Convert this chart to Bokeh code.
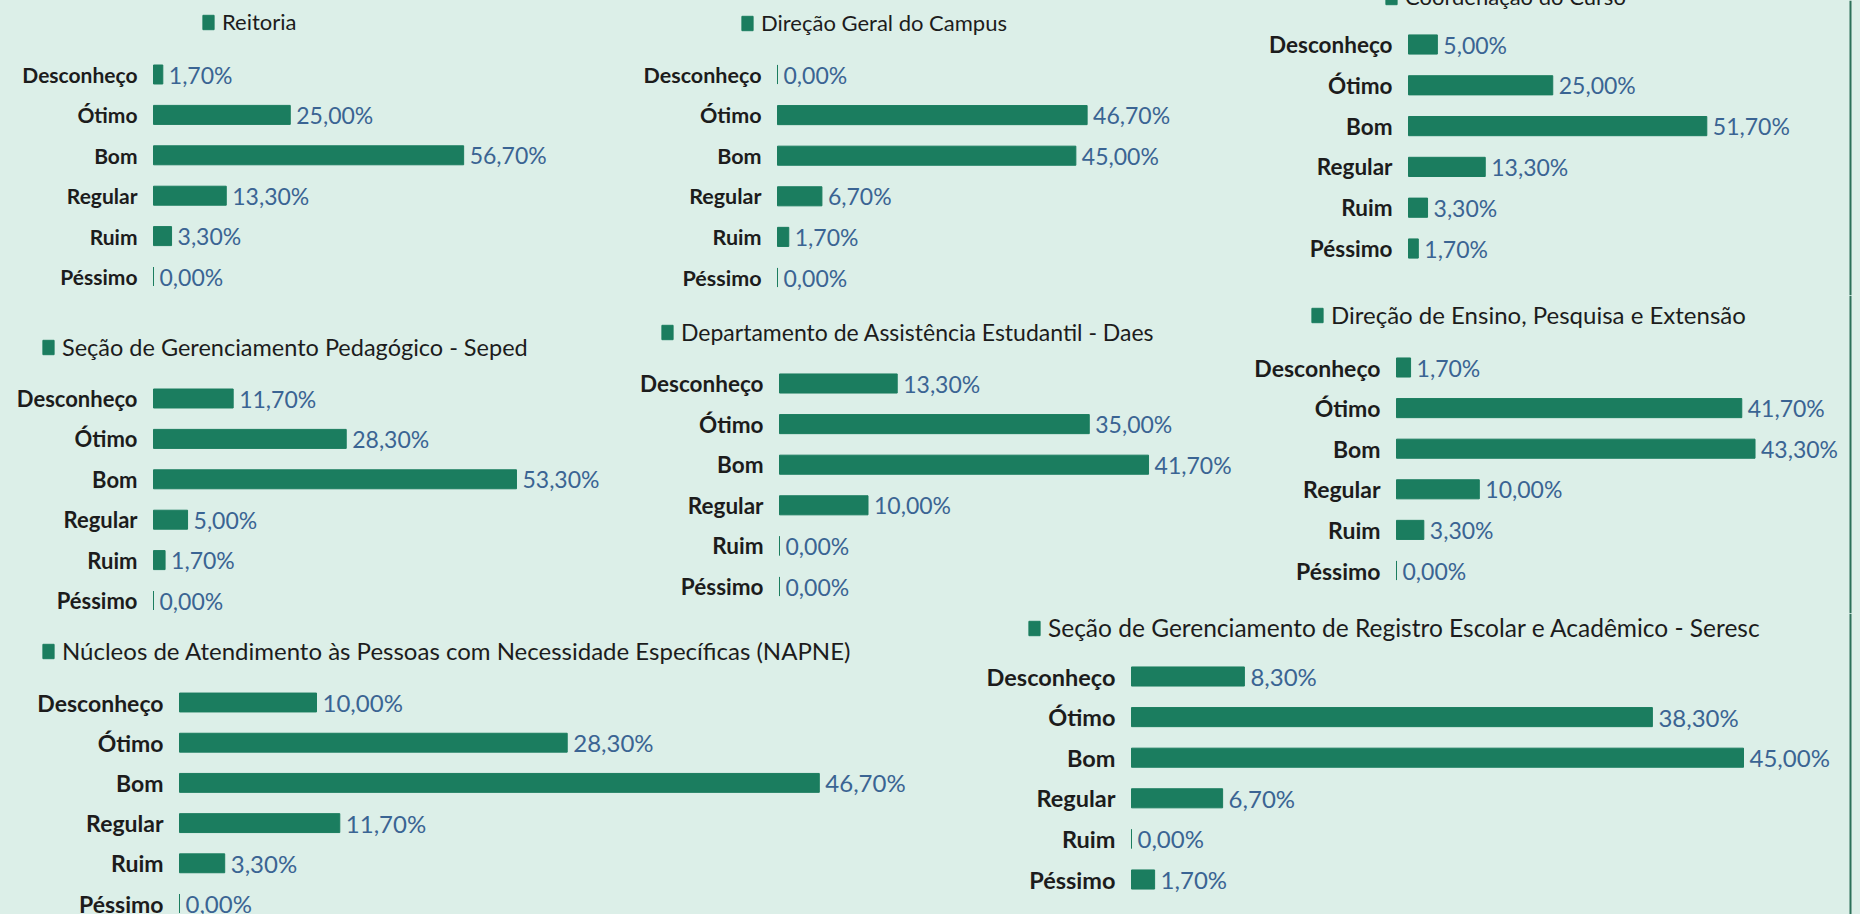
from bokeh.plotting import figure
from bokeh.models import Range1d, ColumnDataSource, Legend, LegendItem, Span
from bokeh.layouts import column, row
from bokeh.core.properties import value
from bokeh.embed import file_html
from bokeh.resources import INLINE

# ---------------- data ----------------
categorias = ["Desconheço", "Ótimo", "Bom", "Regular", "Ruim", "Péssimo"]

titulos = [
    "Reitoria",
    "Direção Geral do Campus",
    "Coordenação do Curso",
    "Seção de Gerenciamento Pedagógico - Seped",
    "Departamento de Assistência Estudantil - Daes",
    "Direção de Ensino, Pesquisa e Extensão",
    "Núcleos de Atendimento às Pessoas com Necessidade Específicas (NAPNE)",
    "Seção de Gerenciamento de Registro Escolar e Acadêmico - Seresc",
]

reitoria = [1.7, 25.0, 56.7, 13.3, 3.3, 0.0]
direcao_geral = [0.0, 46.7, 45.0, 6.7, 1.7, 0.0]
coordenacao = [5.0, 25.0, 51.7, 13.3, 3.3, 1.7]
seped = [11.7, 28.3, 53.3, 5.0, 1.7, 0.0]
daes = [13.3, 35.0, 41.7, 10.0, 0.0, 0.0]
depe = [1.7, 41.7, 43.3, 10.0, 3.3, 0.0]
napne = [10.0, 28.3, 46.7, 11.7, 3.3, 0.0]
seresc = [8.3, 38.3, 45.0, 6.7, 0.0, 1.7]

series = [reitoria, direcao_geral, coordenacao, seped, daes, depe, napne, seresc]

# ---------------- layout / style (page pixels) ----------------
# box = (left, right, top, bottom) of each panel; bar_start = x of value 0;
# scale = pixels per percent; row0 = y of first category; spacing = row pitch
# fc/fv/ft = font sizes of categories / values / title
layout_cfg = [
    dict(box=(0, 620, 0, 295), bar_start=153, scale=5.47, row0=74, spacing=40.4,
         title_y=22, square=201, fc=21, fv=23, ft=22),
    dict(box=(620, 1250, 0, 295), bar_start=777, scale=6.63, row0=74, spacing=40.6,
         title_y=23, square=740, fc=21.5, fv=23, ft=22),
    dict(box=(1250, 1860, 0, 295), bar_start=1408, scale=5.77, row0=44, spacing=40.8,
         title_y=-3, square=1384, fc=22.5, fv=23, ft=22, edge=1850),
    dict(box=(0, 625, 295, 613), bar_start=153, scale=6.81, row0=398, spacing=40.4,
         title_y=347, square=41, fc=22, fv=23, ft=23.5),
    dict(box=(625, 1240, 295, 613), bar_start=779, scale=8.85, row0=383, spacing=40.6,
         title_y=332, square=660, fc=22.5, fv=23, ft=23),
    dict(box=(1240, 1860, 295, 613), bar_start=1396, scale=8.28, row0=367, spacing=40.6,
         title_y=315, square=1310, fc=23, fv=23, ft=24, edge=1850),
    dict(box=(0, 950, 613, 914), bar_start=179, scale=13.7, row0=702, spacing=40.2,
         title_y=651, square=41, fc=23, fv=24, ft=24),
    dict(box=(950, 1860, 613, 914), bar_start=1131, scale=13.6, row0=676, spacing=40.6,
         title_y=627, square=1027, fc=23.5, fv=24, ft=24.5, edge=1850),
]

BG = "#dcefe8"
GREEN = "#1b7d5f"
EDGE = "#2d7059"
DARK = "#1c1c1c"
BLUE = "#3a6493"
FONT = "Lato"


def fmt(v):
    return f"{v:.2f}".replace(".", ",") + "%"


def make_chart(title, vals, cfg):
    fl, fr, ft, fb = cfg["box"]
    W, H = fr - fl, fb - ft
    bs, sc = cfg["bar_start"], cfg["scale"]
    r0, sp = cfg["row0"], cfg["spacing"]
    p = figure(
        width=W, height=H,
        x_range=Range1d(-(bs - fl) / sc, (fr - bs) / sc),
        y_range=Range1d((fb - r0) / sp, (ft - r0) / sp),
        x_axis_location=None, y_axis_location=None,
        toolbar_location=None, output_backend="svg",
        min_border=0, background_fill_color=BG, border_fill_color=BG,
        outline_line_color=None,
        styles={"background-color": BG},
    )
    p.grid.visible = False
    src = ColumnDataSource(dict(
        y=list(range(len(categorias))), v=vals, cat=categorias,
        lab=[fmt(v) for v in vals],
    ))
    r = p.hbar(y="y", left=0, right="v", height=0.47, fill_color=GREEN,
               line_color=GREEN, line_width=1, source=src)
    p.text(x=0, y="y", text="cat", x_offset=-16, text_align="right",
           text_baseline="middle", text_font=value(FONT),
           text_font_size=f"{cfg['fc']}px",
           text_font_style="bold", text_color=DARK, source=src)
    p.text(x="v", y="y", text="lab", x_offset=6, text_align="left",
           text_baseline="middle", text_font=value(FONT),
           text_font_size=f"{cfg['fv']}px",
           text_color=BLUE, source=src)
    half = round(cfg["ft"] * 0.6)
    legend = Legend(
        items=[LegendItem(label=title, renderers=[r])],
        location=(cfg["square"] - fl, fb - cfg["title_y"] - half),
        padding=0, margin=0, spacing=0, label_standoff=7,
        glyph_width=14, glyph_height=18, label_height=18,
        label_text_font=FONT, label_text_font_size=f"{cfg['ft']}px",
        label_text_color=DARK, border_line_color=None,
        background_fill_alpha=0,
    )
    p.add_layout(legend)
    if "edge" in cfg:
        p.add_layout(Span(location=(cfg["edge"] - bs) / sc, dimension="height",
                          line_color=EDGE, line_width=2))
    return p


figs = [make_chart(t, s, c) for t, s, c in zip(titulos, series, layout_cfg)]

sty = {"background-color": BG}
p = column(
    row(figs[0], figs[1], figs[2], styles=sty),
    row(figs[3], figs[4], figs[5], styles=sty),
    row(figs[6], figs[7], styles=sty),
    styles=sty,
)

open("out.html", "w").write(file_html(p, INLINE))
